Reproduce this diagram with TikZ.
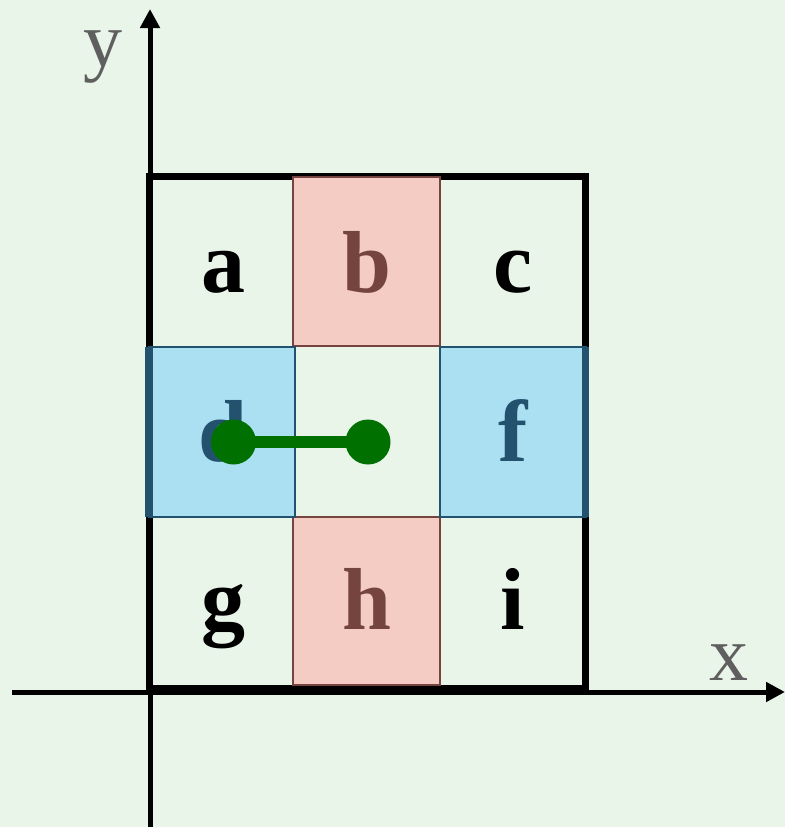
\documentclass[tikz,border=0pt]{standalone}
\usepackage{fontspec}
\setmainfont{Liberation Serif}
\usetikzlibrary{arrows.meta}
\definecolor{bgc}{HTML}{EAF5EA}
\definecolor{pinkfill}{HTML}{F4CCC4}
\definecolor{pinkedge}{HTML}{75443F}
\definecolor{bluefill}{HTML}{ABDFF2}
\definecolor{blueedge}{HTML}{23526F}
\definecolor{dkgreen}{HTML}{007000}
\definecolor{axgray}{HTML}{5F5F5F}
\tikzset{
  pinkbox/.style={fill=pinkfill, draw=pinkedge, line width=2pt},
  bluebox/.style={fill=bluefill, draw=blueedge, line width=2pt},
  gridline/.style={draw=black, line width=1.2pt},
  frame/.style={draw=black, line width=7pt},
  lett/.style={font=\fontsize{88}{88}\selectfont\bfseries, anchor=base, inner sep=0pt},
  axlabel/.style={font=\fontsize{78}{78}\selectfont, text=axgray, anchor=base, inner sep=0pt},
  axisline/.style={line width=5pt, -{Triangle[length=19pt,width=19pt]}},
  dotnode/.style={circle, fill=dkgreen, minimum size=45pt, inner sep=0pt},
  bar/.style={draw=dkgreen, line width=12pt}
}
\begin{document}
\begin{tikzpicture}[x=1pt,y=-1pt]
\fill[bgc] (0,0) rectangle (785,827);
\useasboundingbox (0,0) rectangle (785,827);
% axes
\coordinate (xs) at (12,692);
\coordinate (xe) at (785,692);
\coordinate (ys) at (150,827);
\coordinate (ye) at (150,9);
\draw[axisline] (xs) -- (xe);
\draw[axisline] (ys) -- (ye);
% grid
\draw[gridline] (293.5,176) -- (293.5,688);
\draw[gridline] (439.5,176) -- (439.5,688);
\draw[gridline] (149,346.5) -- (585.5,346.5);
\draw[gridline] (149,516.5) -- (585.5,516.5);
\draw[frame] (149,176) rectangle (585.5,688);
% coloured boxes
\draw[pinkbox] (292.5,177) rectangle (439.5,346);
\draw[pinkbox] (292.5,517) rectangle (439.5,685);
\draw[bluebox] (149,346.5) rectangle (294.5,516.5);
\draw[bluebox] (439.5,346.5) rectangle (585.5,516.5);
\draw[blueedge, line width=7.5pt] (149,346.5) -- (149,516.5);
\draw[blueedge, line width=7.5pt] (585.5,346.5) -- (585.5,516.5);
% letters
\node[lett] (a) at (223,292) {a};
\node[lett, text=pinkedge] (b) at (367,292) {b};
\node[lett] (c) at (513,292) {c};
\node[lett, text=blueedge] (d) at (223,461) {d};
\node[lett, text=blueedge] (f) at (513,461) {f};
\node[lett] (g) at (223,629) {g};
\node[lett, text=pinkedge] (h) at (367,629) {h};
\node[lett] (i) at (513,629) {i};
% axis labels
\node[axlabel] (ylab) at (103,66) {y};
\node[axlabel] (xlab) at (729,680) {x};
% dumbbell
\node[dotnode] (p) at (233.5,442) {};
\node[dotnode] (q) at (368,442) {};
\draw[bar] (p.center) -- (q.center);
\end{tikzpicture}
\end{document}
